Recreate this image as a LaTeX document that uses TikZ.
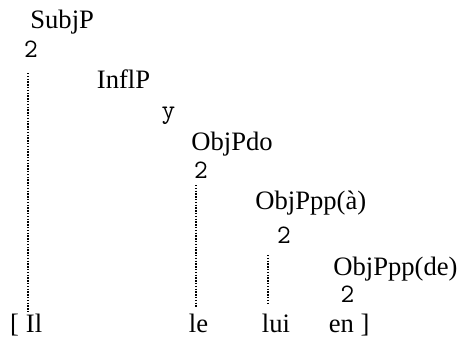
\documentclass[tikz,border=0pt]{standalone}
\usepackage{fontspec}
\setmainfont{Liberation Serif}
\begin{document}
\begin{tikzpicture}[x=0.5pt,y=-0.5pt]

		\tikzset{
		  label/.style={
			inner sep=0pt,
			anchor=base west,
			font=\fontsize{13.3}{16}\selectfont,
		  },
		  branch/.style={
			inner sep=0pt,
			anchor=base,
			font=\fontsize{13.3}{16}\selectfont\ttfamily,
		  },
		  trace/.style={
			line width=0.7pt,
			dash pattern=on 0.7pt off 0.7pt,
		  },
		}
		\useasboundingbox (0,0) rectangle (459,338);
		% projections
		\node[label] (subjp) at (30,28) {SubjP};
		\node[branch] (subjbr) at (31,57) {2};
		\node[label] (inflp) at (96.5,88) {InflP};
		\node[branch] (inflbr) at (168.5,118) {y};
		\node[label] (objpdo) at (191,150) {ObjPdo};
		\node[branch] (dobr) at (201,178) {2};
		\node[label] (objppa) at (255,209) {ObjPpp(à)};
		\node[branch] (ppabr) at (284,243) {2};
		\node[label] (objppde) at (333,275) {ObjPpp(de)};
		\node[branch] (ppdebr) at (347.5,302) {2};
		% words
		\node[label] (lbr) at (9.7,332) {[};
		\node[label] (il) at (25.5,332) {Il};
		\node[label] (le) at (188.5,332) {le};
		\node[label] (lui) at (261.5,332) {lui};
		\node[label] (en) at (328.5,332) {en ]};
		% traces
		\coordinate (subjtop) at (28,73);
		\coordinate (subjbot) at (28,313);
		\coordinate (dotop) at (196,185);
		\coordinate (dobot) at (196,307);
		\coordinate (ppatop) at (268,255);
		\coordinate (ppabot) at (268,303);
		\draw[trace] (subjtop)--(subjbot);
		\draw[trace] (dotop)--(dobot);
		\draw[trace] (ppatop)--(ppabot);

\end{tikzpicture}
\end{document}
